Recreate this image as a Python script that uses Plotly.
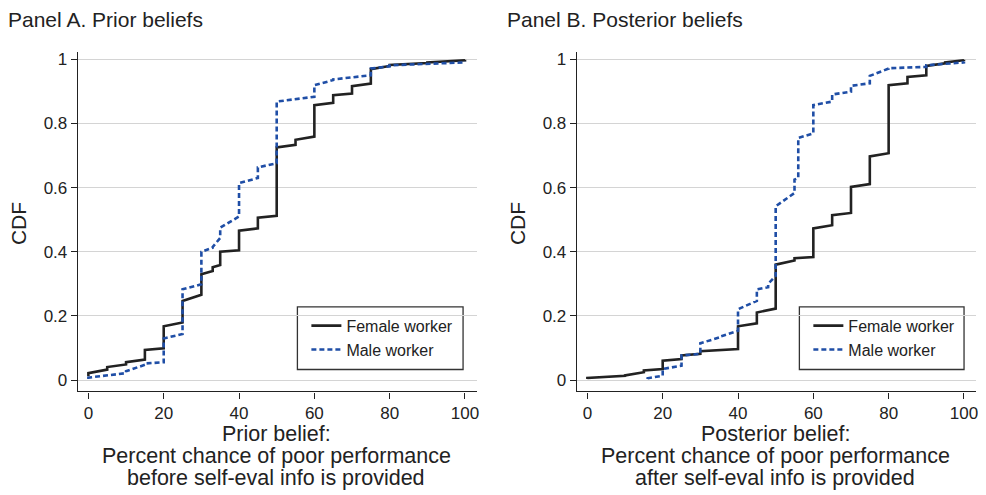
import plotly.graph_objects as go

# ---------------- data (belief value, CDF just before/after the value) ----------
prior_female_x = [0, 5, 10, 15, 20, 25, 30, 33, 35, 40, 45, 50, 55, 60, 65, 70, 75, 80, 90, 100]
prior_female_lo = [0.012, 0.033, 0.049, 0.064, 0.099, 0.180, 0.266, 0.340, 0.359, 0.405, 0.473, 0.512,
                   0.733, 0.759, 0.864, 0.893, 0.924, 0.979, 0.988, 0.997]
prior_female_hi = [0.022, 0.041, 0.056, 0.094, 0.168, 0.247, 0.330, 0.352, 0.400, 0.466, 0.506, 0.725,
                   0.749, 0.857, 0.888, 0.916, 0.969, 0.982, 0.990, 0.998]

prior_male_x = [0, 10, 15, 20, 25, 30, 33, 35, 40, 45, 50, 60, 65, 75, 80, 100]
prior_male_lo = [0.004, 0.022, 0.048, 0.056, 0.144, 0.299, 0.413, 0.443, 0.510, 0.630, 0.676, 0.883,
                 0.935, 0.950, 0.978, 0.990]
prior_male_hi = [0.008, 0.028, 0.052, 0.130, 0.283, 0.400, 0.415, 0.475, 0.614, 0.663, 0.868, 0.919,
                 0.937, 0.971, 0.981, 0.992]

post_female_x = [0, 10, 15, 20, 25, 30, 40, 45, 50, 55, 60, 65, 70, 75, 80, 85, 90, 95, 100]
post_female_lo = [0.004, 0.014, 0.025, 0.035, 0.066, 0.082, 0.097, 0.177, 0.223, 0.373, 0.384, 0.483,
                  0.521, 0.611, 0.707, 0.925, 0.950, 0.987, 0.997]
post_female_hi = [0.007, 0.015, 0.030, 0.061, 0.077, 0.090, 0.168, 0.211, 0.360, 0.380, 0.473, 0.514,
                  0.602, 0.697, 0.919, 0.945, 0.979, 0.990, 0.998]

post_male_x = [16, 20, 25, 30, 35, 40, 45, 48, 50, 55, 56, 60, 65, 70, 75, 80, 90, 100]
post_male_lo = [0.004, 0.014, 0.045, 0.082, 0.133, 0.154, 0.247, 0.290, 0.325, 0.583, 0.630, 0.769,
                0.868, 0.899, 0.925, 0.971, 0.976, 0.990]
post_male_hi = [0.006, 0.035, 0.077, 0.115, 0.135, 0.221, 0.283, 0.300, 0.542, 0.625, 0.755, 0.857,
                0.890, 0.917, 0.948, 0.972, 0.981, 0.992]

y_ticks = [0, 0.2, 0.4, 0.6, 0.8, 1]
y_tick_text = ["0", "0.2", "0.4", "0.6", "0.8", "1"]
x_ticks = [0, 20, 40, 60, 80, 100]

panel_titles = ["Panel A. Prior beliefs", "Panel B. Posterior beliefs"]
x_titles = [["Prior belief:", "Percent chance of poor performance", "before self-eval info is provided"],
            ["Posterior belief:", "Percent chance of poor performance", "after self-eval info is provided"]]
series_names = ["Female worker", "Male worker"]

# ---------------- styling ----------------
# the page body adds an 8 px margin, so the figure is drawn offset by (8, 8)
OFF = 8
W, H = 986 - OFF, 495 - OFF
FEMALE_COLOR = "#222222"
MALE_COLOR = "#1f4ea6"
TEXT = "#222222"
FONT = "Liberation Sans, Arial, Helvetica, sans-serif"


def step_path(xs, lo, hi):
    px, py = [], []
    for x, a, b in zip(xs, lo, hi):
        px += [x, x]
        py += [a, b]
    return px, py


def px_x(p):
    return (p - OFF) / W


def px_y(p):
    return 1 - (p - OFF) / H


fig = go.Figure()

panels = [
    (prior_female_x, prior_female_lo, prior_female_hi, prior_male_x, prior_male_lo, prior_male_hi),
    (post_female_x, post_female_lo, post_female_hi, post_male_x, post_male_lo, post_male_hi),
]
left_px = [78, 578]
plot_w = 400
top_px, bottom_px = 50, 391

for i, (fx, flo, fhi, mx, mlo, mhi) in enumerate(panels):
    xa = "x" if i == 0 else "x2"
    ya = "y" if i == 0 else "y2"
    leg = "legend" if i == 0 else "legend2"
    x1, y1 = step_path(fx, flo, fhi)
    x2, y2 = step_path(mx, mlo, mhi)
    fig.add_trace(go.Scatter(x=x1, y=y1, mode="lines", name=series_names[0],
                             line=dict(color=FEMALE_COLOR, width=2.6),
                             xaxis=xa, yaxis=ya, legend=leg))
    fig.add_trace(go.Scatter(x=x2, y=y2, mode="lines", name=series_names[1],
                             line=dict(color=MALE_COLOR, width=2.6, dash="5px,3px"),
                             xaxis=xa, yaxis=ya, legend=leg))

axis_common = dict(showline=True, linecolor="#222", linewidth=1.3, ticks="outside", ticklen=6,
                   tickcolor="#222", tickwidth=1.3, zeroline=False,
                   tickfont=dict(size=17, color=TEXT, family=FONT))

layout = dict(
    width=W, height=H, margin=dict(l=0, r=0, t=0, b=0),
    paper_bgcolor="white", plot_bgcolor="white",
    font=dict(family=FONT, color=TEXT),
)
for i in range(2):
    sfx = "" if i == 0 else "2"
    layout["xaxis" + sfx] = dict(
        domain=[px_x(left_px[i]), px_x(left_px[i] + plot_w)],
        range=[-2.8, 103.2], tickvals=x_ticks, showgrid=False,
        anchor="y" + sfx, **axis_common)
    layout["yaxis" + sfx] = dict(
        domain=[px_y(bottom_px), px_y(top_px)],
        range=[-0.035, 1.023], tickvals=y_ticks, ticktext=y_tick_text,
        showgrid=True, gridcolor="#d4d4d4", gridwidth=1.3,
        anchor="x" + sfx, **axis_common)

leg_boxes = [(298, 306, 464, 369), (801, 306, 966, 369)]
for i, (lx0, ly0, lx1, ly1) in enumerate(leg_boxes):
    key = "legend" if i == 0 else "legend2"
    layout[key] = dict(x=px_x(lx0 + 9), y=px_y(ly0 + 2), xanchor="left", yanchor="top",
                       bgcolor="rgba(0,0,0,0)", borderwidth=0,
                       font=dict(size=16, color=TEXT, family=FONT),
                       itemwidth=30, tracegroupgap=0)

fig.update_layout(**layout)

for i, (lx0, ly0, lx1, ly1) in enumerate(leg_boxes):
    fig.add_shape(type="rect", xref="paper", yref="paper",
                  x0=px_x(lx0), x1=px_x(lx1), y0=px_y(ly1), y1=px_y(ly0),
                  line=dict(color="#333", width=1.3), fillcolor="white", layer="below")

title_x = [8, 508]
for i in range(2):
    fig.add_annotation(text=panel_titles[i], xref="paper", yref="paper",
                       x=px_x(title_x[i] - 2), y=px_y(18), xanchor="left", yanchor="middle",
                       showarrow=False, font=dict(size=21, color=TEXT, family=FONT))
    fig.add_annotation(text="CDF", xref="paper", yref="paper", textangle=-90,
                       x=px_x(18 + 500 * i), y=px_y(222), xanchor="center", yanchor="middle",
                       showarrow=False, font=dict(size=21, color=TEXT, family=FONT))
    cx = left_px[i] + plot_w / 2 - 1
    for j, (line, yy) in enumerate(zip(x_titles[i], [434, 456, 478])):
        fig.add_annotation(text=line, xref="paper", yref="paper",
                           x=px_x(cx), y=px_y(yy), xanchor="center", yanchor="middle",
                           showarrow=False, font=dict(size=21.5, color=TEXT, family=FONT))

fig.write_html("out.html")
